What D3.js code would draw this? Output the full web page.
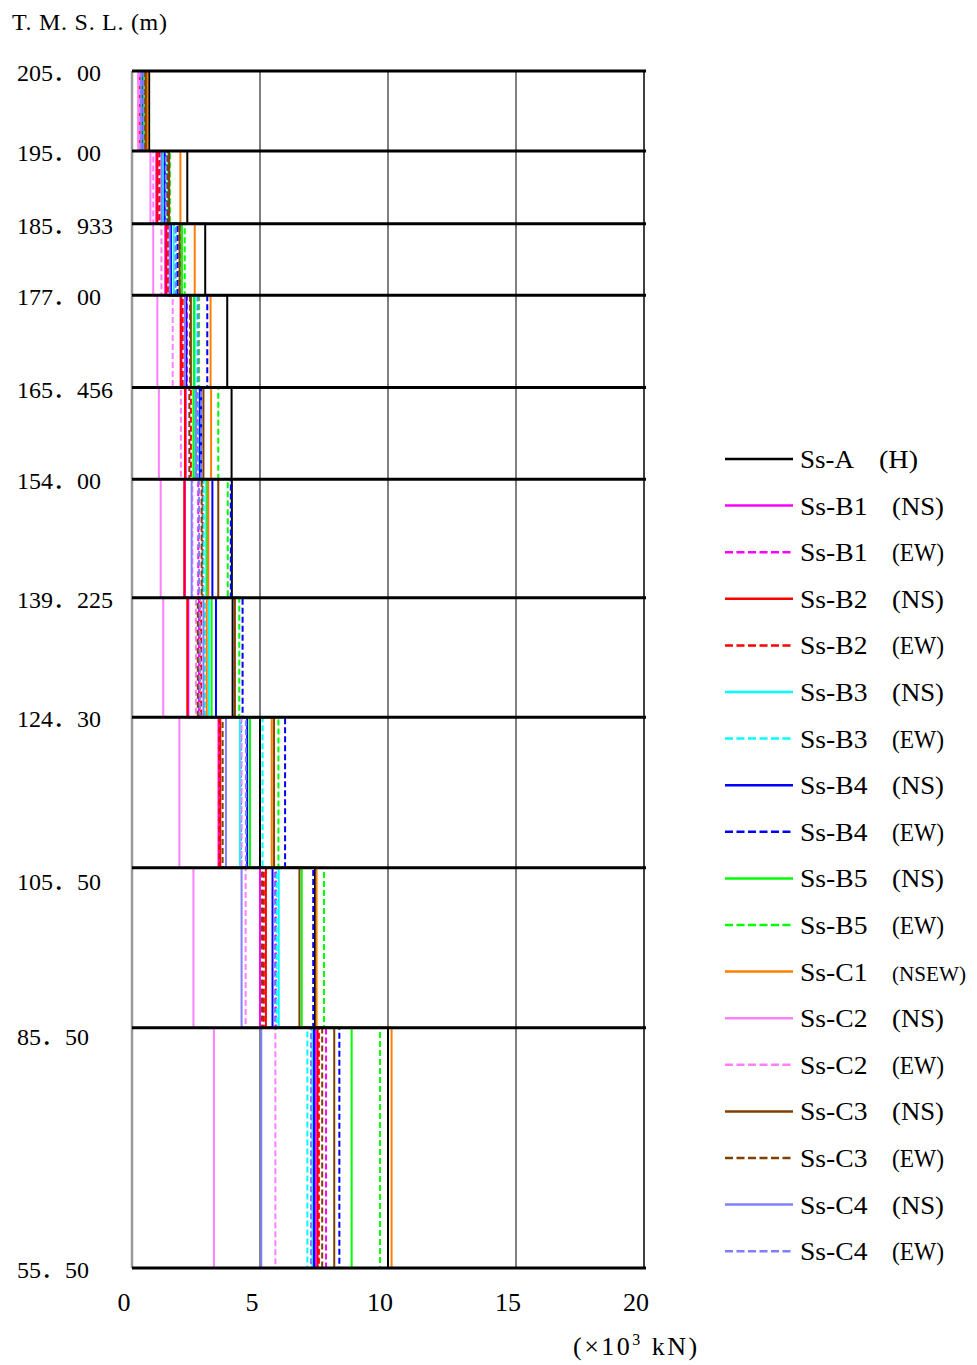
<!DOCTYPE html>
<html>
<head>
<meta charset="utf-8">
<title>Shear force distribution</title>
<script src="https://cdn.jsdelivr.net/npm/d3@7"></script>
<style>
  body { margin: 0; background: #fff; }
  text { font-family: "Liberation Serif", "Noto Sans CJK JP", serif; fill: #000; }
</style>
</head>
<body>
<svg width="977" height="1365"></svg>
<script>
// elevations of the floor levels (T.M.S.L., m), top to bottom
var levels = [205.00, 195.00, 185.933, 177.00, 165.456, 154.00, 139.225, 124.30, 105.50, 85.50, 55.50];
var levelLabels = ["205\uFF0E00", "195\uFF0E00", "185\uFF0E933", "177\uFF0E00", "165\uFF0E456", "154\uFF0E00",
                   "139\uFF0E225", "124\uFF0E30", "105\uFF0E50", "85\uFF0E50", "55\uFF0E50"];
var xTicks = [0, 5, 10, 15, 20];

// shear force per storey (x10^3 kN), top storey first
var ssA    = [0.67, 2.16, 2.86, 3.72, 3.89, 3.90, 3.93, 5.00, 7.15, 10.00];
var ssB1NS = [0.27, 0.95, 1.30, 1.93, 2.10, 2.07, 2.20, 3.38, 5.00, 7.18];
var ssB1EW = [0.33, 1.05, 1.40, 2.15, 2.55, 2.59, 2.62, 4.25, 5.62, 7.58];
var ssB2NS = [0.32, 0.99, 1.34, 1.90, 2.07, 2.04, 2.16, 3.45, 5.23, 7.25];
var ssB2EW = [0.34, 1.08, 1.42, 1.98, 2.30, 2.76, 2.70, 3.41, 5.15, 7.30];
var ssB3NS = [0.38, 1.20, 1.63, 2.45, 2.45, 2.90, 3.00, 4.22, 5.73, 7.05];
var ssB3EW = [0.42, 1.35, 1.72, 2.55, 2.60, 2.80, 2.85, 5.10, 5.65, 6.85];
var ssB4NS = [0.40, 1.28, 1.52, 2.12, 2.65, 3.14, 3.28, 4.50, 5.49, 7.11];
var ssB4EW = [0.45, 1.38, 1.78, 2.94, 2.70, 3.86, 4.32, 5.98, 7.08, 8.10];
var ssB5NS = [0.46, 1.42, 1.95, 2.42, 2.40, 2.94, 3.11, 4.61, 6.63, 8.58];
var ssB5EW = [0.47, 1.48, 2.06, 2.62, 3.37, 3.74, 4.19, 5.72, 7.50, 9.69];
var ssC1   = [0.60, 1.89, 2.45, 3.07, 3.09, 2.98, 2.92, 5.46, 7.21, 10.14];
var ssC2NS = [0.24, 0.72, 0.83, 0.99, 1.05, 1.12, 1.22, 1.85, 2.40, 3.20];
var ssC2EW = [0.30, 0.83, 1.15, 1.59, 1.91, 2.36, 2.50, 4.28, 4.44, 5.60];
var ssC3NS = [0.54, 1.45, 1.86, 2.30, 2.79, 3.37, 4.02, 5.55, 6.54, 7.90];
var ssC3EW = [0.50, 1.40, 1.86, 2.27, 2.24, 2.72, 2.57, 3.54, 5.08, 7.43];
var ssC4NS = [0.36, 1.15, 1.47, 2.07, 2.50, 2.33, 2.79, 3.67, 4.28, 5.05];
var ssC4EW = [0.44, 1.32, 1.70, 2.58, 2.70, 2.62, 2.66, 4.45, 5.55, 6.99];

var seriesNames = ["Ss-A", "Ss-B1", "Ss-B1", "Ss-B2", "Ss-B2", "Ss-B3", "Ss-B3", "Ss-B4", "Ss-B4",
                   "Ss-B5", "Ss-B5", "Ss-C1", "Ss-C2", "Ss-C2", "Ss-C3", "Ss-C3", "Ss-C4", "Ss-C4"];
var seriesDirs = ["(H)", "(NS)", "(EW)", "(NS)", "(EW)", "(NS)", "(EW)", "(NS)", "(EW)",
                  "(NS)", "(EW)", "(NSEW)", "(NS)", "(EW)", "(NS)", "(EW)", "(NS)", "(EW)"];
var seriesValues = [ssA, ssB1NS, ssB1EW, ssB2NS, ssB2EW, ssB3NS, ssB3EW, ssB4NS, ssB4EW,
                    ssB5NS, ssB5EW, ssC1, ssC2NS, ssC2EW, ssC3NS, ssC3EW, ssC4NS, ssC4EW];

// styles
var seriesColors = ["#000000", "#ff00ff", "#ff00ff", "#ff0000", "#ff0000", "#00ffff", "#00ffff",
                    "#0000ff", "#0000ff", "#00ff00", "#00ff00", "#ff8000", "#ff80ff", "#ff80ff",
                    "#804000", "#804000", "#8080ff", "#8080ff"];
var seriesDashed = [false, false, true, false, true, false, true, false, true,
                    false, true, false, false, true, false, true, false, true];

var svg = d3.select("svg");

var x = d3.scaleLinear().domain([0, 20]).range([132, 644]);
var y = d3.scaleLinear().domain([55.5, 205]).range([1268, 71]);

// vertical grid lines
svg.append("g")
  .selectAll("line")
  .data([5, 10, 15])
  .enter().append("line")
  .attr("x1", function(d) { return x(d); })
  .attr("x2", function(d) { return x(d); })
  .attr("y1", y(205)).attr("y2", y(55.5))
  .attr("stroke", "#000").attr("stroke-width", 1);

// step lines for each series
var stepLine = d3.line()
  .x(function(d) { return x(d[0]); })
  .y(function(d) { return y(d[1]); });

var series = seriesValues.map(function(vals, i) {
  var pts = [];
  vals.forEach(function(v, k) {
    pts.push([v, levels[k]]);
    pts.push([v, levels[k + 1]]);
  });
  return { i: i, pts: pts };
});

svg.append("g")
  .selectAll("path")
  .data(series)
  .enter().append("path")
  .attr("d", function(d) { return stepLine(d.pts); })
  .attr("fill", "none")
  .attr("stroke", function(d) { return seriesColors[d.i]; })
  .attr("stroke-width", 2)
  .attr("stroke-dasharray", function(d) { return seriesDashed[d.i] ? "6,3" : null; });

// left axis
svg.append("line")
  .attr("x1", x(0)).attr("x2", x(0))
  .attr("y1", y(205)).attr("y2", y(55.5))
  .attr("stroke", "#999").attr("stroke-width", 2.5);

// right border
svg.append("line")
  .attr("x1", x(20)).attr("x2", x(20))
  .attr("y1", y(205)).attr("y2", y(55.5))
  .attr("stroke", "#000").attr("stroke-width", 1.5);

// level lines
svg.append("g")
  .selectAll("line")
  .data(levels)
  .enter().append("line")
  .attr("x1", x(0)).attr("x2", x(20) + 2)
  .attr("y1", function(d) { return y(d); })
  .attr("y2", function(d) { return y(d); })
  .attr("stroke", "#000").attr("stroke-width", 3);

// level labels
svg.append("g")
  .selectAll("text")
  .data(levels)
  .enter().append("text")
  .attr("x", 17)
  .attr("y", function(d, i) { return y(d) + (i === 8 ? 22 : i === 9 ? 17 : 10); })
  .attr("font-size", 24)
  .text(function(d, i) { return levelLabels[i]; });

svg.append("text")
  .attr("x", 12).attr("y", 30)
  .attr("font-size", 24)
  .attr("textLength", 155)
  .attr("lengthAdjust", "spacing")
  .text("T. M. S. L. (m)");

// x tick labels
svg.append("g")
  .selectAll("text")
  .data(xTicks)
  .enter().append("text")
  .attr("x", function(d) { return x(d) - 8; })
  .attr("y", 1311)
  .attr("text-anchor", "middle")
  .attr("font-size", 26)
  .text(function(d) { return d; });

var unit = svg.append("text")
  .attr("x", 573).attr("y", 1355)
  .attr("font-size", 26)
  .attr("letter-spacing", 2.5);
unit.append("tspan").text("(\u00D710");
unit.append("tspan").attr("font-size", 16).attr("dy", -10).text("3");
unit.append("tspan").attr("dy", 10).text(" kN)");

// legend
var legend = svg.append("g")
  .selectAll("g")
  .data(seriesNames)
  .enter().append("g")
  .attr("transform", function(d, i) { return "translate(0," + (459 + i * 46.6) + ")"; });

legend.append("line")
  .attr("x1", 725).attr("x2", 793)
  .attr("stroke", function(d, i) { return seriesColors[i]; })
  .attr("stroke-width", 2.5)
  .attr("stroke-dasharray", function(d, i) { return seriesDashed[i] ? "8,3.5" : null; });

legend.append("text")
  .attr("x", 800).attr("y", 9)
  .attr("font-size", 26)
  .attr("textLength", function(d) { return d.length * 13.5; })
  .attr("lengthAdjust", "spacingAndGlyphs")
  .text(function(d) { return d; });

legend.append("text")
  .attr("x", function(d) { return 800 + d.length * 13 + 27; })
  .attr("y", 9)
  .attr("font-size", function(d, i) { return seriesDirs[i].length > 4 ? 22 : 26; })
  .attr("textLength", function(d, i) { return seriesDirs[i].length > 4 ? 74 : seriesDirs[i].length * 13; })
  .attr("lengthAdjust", "spacingAndGlyphs")
  .text(function(d, i) { return seriesDirs[i]; });
</script>
</body>
</html>
